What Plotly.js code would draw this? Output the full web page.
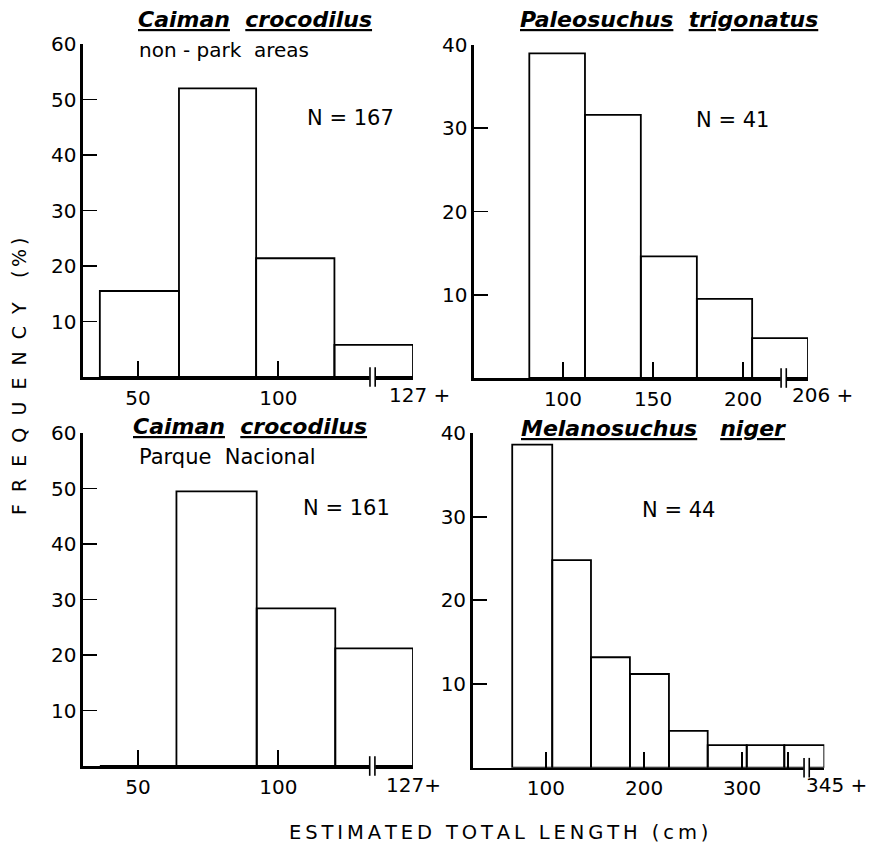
<!DOCTYPE html>
<html>
<head>
<meta charset="utf-8">
<script src="https://cdn.plot.ly/plotly-3.0.1.min.js"></script>
<style>html,body{margin:0;padding:0;background:#fff;}#chart{width:874px;height:845px;}</style>
</head>
<body>
<div id="chart"></div>
<script>
// ---------- data ----------
// Caiman crocodilus, non-park areas (N = 167)
const ccNonParkEdges = [36.4, 64.6, 92.1, 120.0, 148.0];
const ccNonParkFreq  = [15.5, 52.0, 21.4, 5.8];
// Paleosuchus trigonatus (N = 41)
const ptEdges = [81.3, 112.2, 143.2, 174.3, 205.0, 236.0];
const ptFreq  = [39.0, 31.6, 14.6, 9.5, 4.8];
// Caiman crocodilus, Parque Nacional (N = 161)
const ccParkEdges = [36.4, 63.7, 92.3, 120.3, 148.0];
const ccParkFreq  = [0, 49.5, 28.4, 21.2];
// Melanosuchus niger (N = 44)
const mnEdges = [65.6, 106.4, 145.9, 185.6, 225.4, 264.9, 304.7, 343.0, 383.8];
const mnFreq  = [38.6, 24.8, 13.2, 11.2, 4.4, 2.7, 2.7, 2.7];

// tick values / labels
const ccTicks = [50, 100];
const ptTicks = [100, 150, 200];
const mnTicks = [100, 200, 300, 347];
const mnTickText = ['100', '200', '300', ''];
const ccYTicks = [10, 20, 30, 40, 50, 60];
const smallYTicks = [10, 20, 30, 40];
const lastLabels = ['127 +', '206 +', '127+', '345 +'];
const breakValues = [133.6, 222.5, 133.5, 365.8];
const nLabels = ['N = 167', 'N = 41', 'N = 161', 'N = 44'];

// ---------- layout helpers ----------
const W = 874, H = 845;
const px = p => p / W;
const py = p => 1 - p / H;
const FONT = 'DejaVu Sans, Liberation Sans, sans-serif';

const panels = [
  {edges: ccNonParkEdges, freq: ccNonParkFreq, xr: [30.4, 148.0], yr: [0, 60], xd: [83, 413], yd: [377, 44],
   tv: ccTicks, tt: ccTicks.map(String), ytv: ccYTicks},
  {edges: ptEdges, freq: ptFreq, xr: [50.6, 236.0], yr: [0, 40], xd: [474, 808], yd: [378, 45],
   tv: ptTicks, tt: ptTicks.map(String), ytv: smallYTicks},
  {edges: ccParkEdges, freq: ccParkFreq, xr: [30.4, 148.0], yr: [0, 60], xd: [83, 413], yd: [766, 433],
   tv: ccTicks, tt: ccTicks.map(String), ytv: ccYTicks},
  {edges: mnEdges, freq: mnFreq, xr: [25.3, 383.8], yr: [0, 40], xd: [472.7, 824.3], yd: [767.7, 433],
   tv: mnTicks, tt: mnTickText, ytv: smallYTicks}
];

const traces = [];
const layout = {
  width: W, height: H,
  margin: {l: 0, r: 0, t: 0, b: 0},
  paper_bgcolor: '#fff', plot_bgcolor: 'rgba(0,0,0,0)',
  showlegend: false,
  font: {family: FONT, color: '#000', size: 19},
  annotations: [],
  shapes: []
};

panels.forEach((p, i) => {
  const n = i === 0 ? '' : String(i + 1);
  const xa = 'x' + n, ya = 'y' + n;
  const centers = [], widths = [];
  for (let k = 0; k < p.freq.length; k++) {
    centers.push((p.edges[k] + p.edges[k + 1]) / 2);
    widths.push(p.edges[k + 1] - p.edges[k]);
  }
  traces.push({
    type: 'bar', x: centers, y: p.freq, width: widths, xaxis: xa, yaxis: ya,
    marker: {color: 'rgba(0,0,0,0)', line: {color: '#000', width: 1.8}},
    cliponaxis: false, hoverinfo: 'skip'
  });
  // axis break marks
  const unitsPerPx = (p.xr[1] - p.xr[0]) / (p.xd[1] - p.xd[0]);
  const b = breakValues[i];
  traces.push({
    type: 'scatter', mode: 'markers', x: [b], y: [0], xaxis: xa, yaxis: ya,
    marker: {symbol: 'square', size: 6, color: '#fff', line: {width: 0}},
    cliponaxis: false, hoverinfo: 'skip'
  });
  traces.push({
    type: 'scatter', mode: 'markers', x: [b - 2.6 * unitsPerPx, b + 2.6 * unitsPerPx], y: [0, 0],
    xaxis: xa, yaxis: ya,
    marker: {symbol: 'line-ns', size: 14, color: '#000', line: {width: 1.6, color: '#000'}},
    cliponaxis: false, hoverinfo: 'skip'
  });

  layout['xaxis' + n] = {
    domain: [px(p.xd[0]), px(p.xd[1])], anchor: ya, range: p.xr,
    tickmode: 'array', tickvals: p.tv, ticktext: p.tt,
    ticks: 'inside', ticklen: 16, tickwidth: 1.8, tickcolor: '#000',
    showline: true, linewidth: 2.6, linecolor: '#000',
    showgrid: false, zeroline: false, layer: 'below traces',
    tickfont: {family: FONT, size: 20, color: '#000'}, ticklabelstandoff: 1,
    fixedrange: true
  };
  layout['yaxis' + n] = {
    domain: [py(p.yd[0]), py(p.yd[1])], anchor: xa, range: p.yr,
    tickmode: 'array', tickvals: p.ytv,
    ticks: 'inside', ticklen: 14, tickwidth: 1.8, tickcolor: '#000',
    showline: true, linewidth: 2.6, linecolor: '#000',
    showgrid: false, zeroline: false, layer: 'below traces',
    tickfont: {family: FONT, size: 20, color: '#000'}, ticklabelstandoff: 0,
    fixedrange: true
  };

  // last-bin label (e.g. "127 +")
  const shifts = [6, 14, 0, 12];
  layout.annotations.push({
    xref: xa, yref: 'paper', x: p.edges[p.edges.length - 1], y: py(i < 2 ? 395 : 785),
    text: lastLabels[i], showarrow: false, xanchor: 'center', yanchor: 'middle',
    xshift: shifts[i], font: {family: FONT, size: 20, color: '#000'}
  });
});

// N labels
const nPos = [[350, 118], [732, 120], [346, 508], [678, 510]];
nPos.forEach((q, i) => {
  layout.annotations.push({
    xref: 'paper', yref: 'paper', x: px(q[0]), y: py(q[1]), text: nLabels[i],
    showarrow: false, xanchor: 'center', yanchor: 'middle',
    font: {family: FONT, size: 21, color: '#000'}
  });
});

// species titles
const NB = '\u00A0';
const titles = [
  {t: '<b><i><u>Caiman</u>' + NB + ' <u>crocodilus</u></i></b>', x: 255, y: 19},
  {t: '<b><i><u>Paleosuchus</u>' + NB + ' <u>trigonatus</u></i></b>', x: 669, y: 19},
  {t: '<b><i><u>Caiman</u>' + NB + ' <u>crocodilus</u></i></b>', x: 250, y: 426},
  {t: '<b><i><u>Melanosuchus</u>' + NB + NB + ' <u>niger</u></i></b>', x: 653, y: 428}
];
titles.forEach(o => {
  layout.annotations.push({
    xref: 'paper', yref: 'paper', x: px(o.x), y: py(o.y), text: o.t,
    showarrow: false, xanchor: 'center', yanchor: 'middle',
    font: {family: FONT, size: 22, color: '#000'}
  });
});
// subtitles
layout.annotations.push({
  xref: 'paper', yref: 'paper', x: px(137), y: py(50), text: 'non - park' + NB + ' areas',
  showarrow: false, xanchor: 'left', yanchor: 'middle', font: {family: FONT, size: 20, color: '#000'}
});
layout.annotations.push({
  xref: 'paper', yref: 'paper', x: px(137), y: py(457), text: 'Parque' + NB + NB + 'Nacional',
  showarrow: false, xanchor: 'left', yanchor: 'middle', font: {family: FONT, size: 21, color: '#000'}
});

// shared axis titles (letter-spaced)
const spaced = (s, gap) => s.split('').join(gap);
const yTitle = spaced('FREQUENCY', NB + NB) + NB + NB + NB + NB + spaced('(%)', '\u2009');
layout.annotations.push({
  xref: 'paper', yref: 'paper', x: px(19), y: py(377), text: yTitle, textangle: -90,
  showarrow: false, xanchor: 'center', yanchor: 'middle', font: {family: FONT, size: 19, color: '#000'}
});
const xTitle = ['ESTIMATED', 'TOTAL', 'LENGTH', '(cm)'].map(w => spaced(w, '\u2009')).join('\u2009' + NB + '\u2009');
layout.annotations.push({
  xref: 'paper', yref: 'paper', x: px(498), y: py(832), text: xTitle,
  showarrow: false, xanchor: 'center', yanchor: 'middle', font: {family: FONT, size: 19.5, color: '#000'}
});

Plotly.newPlot('chart', traces, layout, {staticPlot: true, displayModeBar: false});
</script>
</body>
</html>
